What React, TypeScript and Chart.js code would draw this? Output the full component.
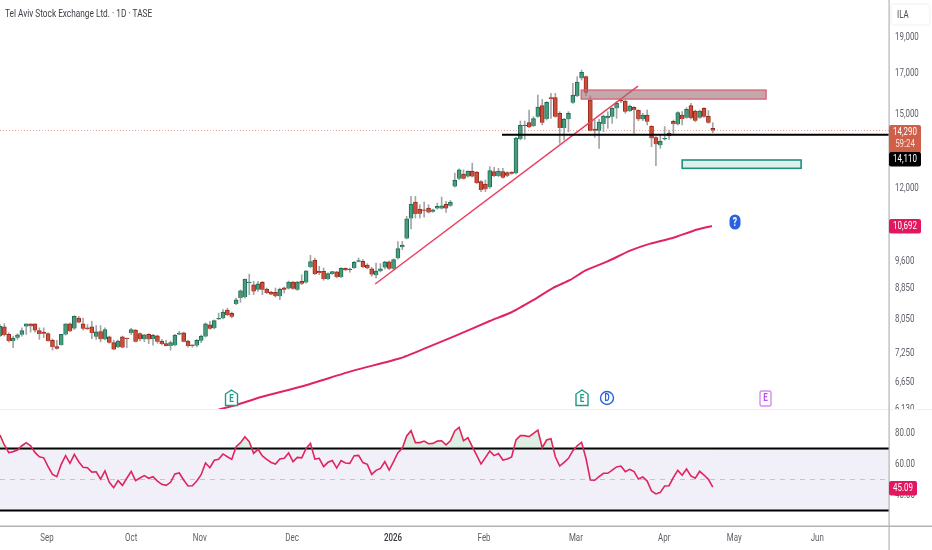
import React, { useEffect, useRef } from "react";
import { Chart, registerables } from "chart.js";

Chart.register(...registerables);

const opens = [7650,7867,7688,7536,7612,7681,7875,7939,7939,7782,7743,7711,7551,7410,7447,7688,7939,7828,8083,7939,7844,7867,7635,7758,7574,7635,7499,7395,7635,7597,7720,7790,7711,7574,7688,7582,7658,7536,7477,7425,7440,7696,7727,7536,7433,7433,7544,7642,7915,7836,8051,8075,8280,8198,8432,8587,8614,8990,8943,8808,9005,8826,8745,8736,8632,8862,8844,9015,8808,9035,9005,9439,9632,9316,9316,9101,9241,9297,9157,9400,9358,9410,9593,9603,9496,9382,9204,9316,9420,9584,9391,9690,10020,10296,10940,11497,11256,11222,11290,11165,11278,11278,11428,11370,12057,12342,12518,12429,12632,12594,12233,12146,12024,12610,12445,12610,12572,12598,12547,13927,14519,14636,14489,14906,15412,14800,15793,15793,15058,14402,14785,15553,15872,16747,16832,15680,14358,14285,14577,14830,14906,15288,15649,15633,15165,15335,15211,14785,14982,14474,13984,13661,13913,14183,14695,14562,14982,14860,15412,15165,14860,15288,14921,14387];
const highs = [7923,7947,7727,7650,7704,7844,7939,7939,7939,7844,7844,7727,7589,7551,7688,7939,7963,8140,8124,8083,7923,8003,7899,7899,7844,7650,7559,7559,7650,7604,7836,7805,7727,7688,7704,7688,7673,7574,7551,7536,7688,7766,7743,7559,7447,7574,7673,7963,8003,8035,8206,8289,8330,8230,8587,8807,9097,9235,9035,9035,9035,8853,8763,8853,8853,8880,9043,9035,9035,9218,9330,9779,9700,9458,9410,9269,9316,9316,9420,9410,9410,9603,9700,9651,9535,9430,9554,9535,9603,9613,9671,10200,10200,11008,11697,11697,11404,11497,11404,11256,11462,11673,11520,11555,12556,12722,12683,12645,12943,12620,12270,12295,12803,12777,12740,12740,12610,12610,13998,14710,14710,15211,14906,15920,15711,15600,16002,16002,15134,14830,15134,16495,16832,17177,16866,15872,14755,14785,14982,15134,15320,15600,15760,15680,15444,15366,15211,15058,15211,14503,14026,14097,14460,14314,14755,15134,15134,15320,15522,15211,15211,15320,15180,14636];
const lows = [7635,7650,7514,7388,7574,7650,7688,7743,7743,7574,7612,7529,7330,7352,7440,7673,7751,7805,7963,7790,7805,7589,7574,7514,7559,7484,7337,7388,7381,7388,7688,7514,7536,7521,7477,7440,7484,7447,7418,7330,7425,7681,7514,7395,7395,7403,7499,7627,7805,7820,8043,8059,8140,8083,8415,8475,8587,8676,8676,8763,8676,8700,8675,8615,8545,8719,8826,8817,8790,8943,8988,9410,9222,9222,9065,9083,9222,9129,9138,9335,9288,9391,9584,9410,9382,9175,9129,9297,9382,9363,9363,9671,9949,10276,10600,10953,10953,10985,11120,11142,11256,11256,11142,11347,12032,12304,12329,12405,12405,12156,11870,11870,11987,12420,12420,12360,12420,12510,12522,13885,13913,14416,14460,14876,14533,14755,14830,14876,13745,13885,14241,15522,15840,16663,15889,14271,13998,13538,14241,14387,14607,14830,15553,15058,15134,14169,14725,14725,14533,13606,12842,13538,13885,13913,14169,14533,14533,14830,14800,14681,14830,14876,14607,14198];
const closes = [7883,7673,7536,7604,7681,7782,7939,7883,7782,7696,7704,7536,7403,7360,7688,7939,7766,8124,7971,7820,7813,7720,7751,7574,7805,7499,7345,7536,7388,7582,7805,7521,7574,7681,7574,7665,7521,7470,7425,7499,7673,7720,7521,7425,7425,7551,7650,7939,7820,8019,8067,8230,8156,8116,8544,8780,9097,9005,8763,8970,8808,8719,8683,8632,8826,8808,9015,8835,9015,8970,9330,9593,9241,9269,9101,9250,9306,9157,9400,9344,9349,9574,9613,9439,9400,9222,9325,9382,9584,9391,9651,9980,10090,10930,11428,11087,11098,11199,11142,11233,11347,11370,11278,11497,12280,12683,12342,12632,12429,12180,11927,11950,12650,12445,12636,12383,12458,12535,13970,14519,14489,14431,14815,15350,14636,15569,15730,14906,14402,14785,15058,15920,16562,17056,16035,14285,14285,14666,14936,14936,15288,15522,15618,15134,15397,15211,14785,14982,14681,13955,13703,13829,13940,14055,14577,15088,14800,15242,14830,14725,15165,14906,14636,14290];

const rsiValues = [78.7,72.3,67.3,68,69,71.8,73.8,71.8,67.5,64.7,64,58.3,53.3,51.8,59.8,65.4,60.4,66.2,61.5,57.9,57.6,54.8,55,50.3,55.5,48.2,44.7,49.3,46.2,50.8,55.3,49.3,51,52.5,50.8,51.8,49,46.9,46.2,48.2,53.6,54.2,49.7,45.8,46,49,53.1,60.7,57.6,62.4,63,66.5,64.7,63,71.2,73.8,77.6,74.4,66.9,69.5,65.2,63,61,60,63.2,63.7,67.1,61.5,64.3,64,70.1,73.3,63.2,63.7,58.3,61.1,62.2,57.4,62.2,60.7,60.4,65.4,65.6,60.9,59.8,53.3,55.9,57.2,61.5,56.1,61.5,67.3,70.1,78.1,81.5,73.8,73.8,74.8,73.1,73.3,74.8,75,72.3,75,81.3,83.7,75,77,71.2,65.8,60,64.1,68.4,65.4,66.7,62.6,63.2,64.5,75.5,78.3,78.3,77.6,79.8,81.9,70.5,75.5,76.3,64.7,58.7,61.1,63.7,68.6,71.8,74,63.7,49.7,49.5,51.8,54,54,56.1,58.1,58.7,55.1,56.6,55.1,50.3,51.6,49,42.6,40.7,41.7,45.8,46,51.4,55.9,52.7,56.8,52.3,50.8,55.3,52.9,50.1,45.09];

const maSlots = [50,54,59.5,69.4,80.8,91.5,97.6,103.7,112,117,122,126.6,130.4,133.8,138.8,144.1,148.7,154,158.6,162.8];
const maValues = [6120,6204,6352,6574,6887,7151,7386,7636,8010,8225,8538,8863,9073,9333,9592,9918,10132,10318,10540,10692];

const trendSlots = [85.8, 145.9];
const trendValues = [8963, 16361];
const levelSlots = [114.8, 203.3];
const levelValue = 14110;
const lastPrice = 14290;
const resistanceZone = { from: 132.9, to: 175.2, top: 16164, bottom: 15724 };
const supportZone = { from: 156, to: 183.2, top: 13066, bottom: 12740 };

const priceTicks = [19000, 17000, 15000, 12000, 9600, 8850, 8050, 7250, 6650, 6130];
const rsiTicks = [80, 60, 40];
const monthSlots = [10.75, 30, 45.7, 66.8, 89.9, 110.7, 131.7, 151.9, 167.9, 186.9];
const monthLabels = ["Sep", "Oct", "Nov", "Dec", "2026", "Feb", "Mar", "Apr", "May", "Jun"];

const TITLE = "Tel Aviv Stock Exchange Ltd. · 1D · TASE";
const FONT = "Roboto, sans-serif";
const X_MAX = 203.3;
const WIDTH = 932;
const UP = "#4a9a7e", UP_B = "#1d6e55", DOWN = "#c8503c", DOWN_B = "#9c2a1c";
const PINK = "#e0245f", TEXT = "#5d6068";

function condense(canvas: HTMLCanvasElement, k: number) {
  const ctx: any = canvas.getContext("2d");
  const orig = ctx.fillText.bind(ctx);
  ctx.fillText = (text: string, x: number, y: number) => {
    ctx.save();
    ctx.translate(x, y);
    ctx.scale(k, 1);
    orig(text, 0, 0);
    ctx.restore();
  };
}

function tag(ctx: any, x: number, y: number, w: number, h: number, fill: string) {
  ctx.fillStyle = fill;
  ctx.beginPath();
  ctx.roundRect(x, y, w, h, 2);
  ctx.fill();
}

function eLabel(ctx: any, label: string, x: number, y: number, color: string) {
  ctx.fillStyle = color;
  ctx.font = `bold 11px ${FONT}`;
  ctx.textAlign = "center";
  ctx.textBaseline = "middle";
  ctx.fillText(label, x, y);
}

const pricePlugin = {
  id: "priceOverlay",
  afterDatasetsDraw(chart: any) {
    const { ctx, scales } = chart;
    const zone = (z: any, fill: string, stroke: string, lw: number) => {
      const x0 = scales.x.getPixelForValue(z.from), x1 = scales.x.getPixelForValue(z.to);
      const y0 = scales.y.getPixelForValue(z.top), y1 = scales.y.getPixelForValue(z.bottom);
      ctx.save();
      ctx.fillStyle = fill;
      ctx.strokeStyle = stroke;
      ctx.lineWidth = lw;
      ctx.fillRect(x0, y0, x1 - x0, y1 - y0);
      ctx.strokeRect(x0, y0, x1 - x0, y1 - y0);
      ctx.restore();
    };
    zone(resistanceZone, "rgba(155,115,120,0.62)", "#dc5672", 1.2);
    zone(supportZone, "rgba(200,230,220,0.6)", "#1f9080", 1.6);
  },
  afterDraw(chart: any) {
    const { ctx } = chart;
    ctx.save();
    ctx.fillStyle = "#3a3d46";
    ctx.font = `11.5px ${FONT}`;
    ctx.textAlign = "left";
    ctx.textBaseline = "middle";
    ctx.fillText(TITLE, 5, 14);
    ctx.fillStyle = "#b2b4b8";
    ctx.fillRect(888.5, 0, 1.2, chart.height);
    ctx.strokeStyle = "#f0f1f3";
    ctx.fillStyle = "#ffffff";
    ctx.beginPath();
    ctx.roundRect(891, 4, 39, 21, 3);
    ctx.fill();
    ctx.stroke();
    ctx.fillStyle = "#45484f";
    ctx.font = `11px ${FONT}`;
    ctx.fillText("ILA", 897, 15);
    tag(ctx, 889, 125, 32, 28, "#d05f4a");
    ctx.font = `11px ${FONT}`;
    ctx.fillStyle = "#ffffff";
    ctx.textAlign = "center";
    ctx.fillText("14,290", 905, 132);
    ctx.fillStyle = "#ffe0d6";
    ctx.fillText("59:24", 905, 144);
    tag(ctx, 889, 152, 32, 14.5, "#000000");
    ctx.fillStyle = "#ffffff";
    ctx.fillText("14,110", 905, 159);
    tag(ctx, 889, 219, 32, 14.5, "#e3175f");
    ctx.fillStyle = "#ffffff";
    ctx.fillText("10,692", 905, 226.5);
    const house = (cx: number, color: string) => {
      ctx.strokeStyle = color;
      ctx.fillStyle = "#ffffff";
      ctx.lineWidth = 1.4;
      ctx.beginPath();
      ctx.moveTo(cx, 390);
      ctx.lineTo(cx + 6, 394);
      ctx.lineTo(cx + 6, 405.5);
      ctx.lineTo(cx - 6, 405.5);
      ctx.lineTo(cx - 6, 394);
      ctx.closePath();
      ctx.fill();
      ctx.stroke();
      eLabel(ctx, "E", cx, 399, color);
    };
    house(231.5, "#1f9a86");
    house(582, "#1f9a86");
    ctx.strokeStyle = "#2962e0";
    ctx.lineWidth = 1.4;
    ctx.fillStyle = "#ffffff";
    ctx.beginPath();
    ctx.arc(607, 398, 6.5, 0, Math.PI * 2);
    ctx.fill();
    ctx.stroke();
    eLabel(ctx, "D", 607, 398.5, "#2962e0");
    ctx.strokeStyle = "#d98af0";
    ctx.fillStyle = "#ffffff";
    ctx.beginPath();
    ctx.roundRect(760, 391, 11, 15, 2);
    ctx.fill();
    ctx.stroke();
    eLabel(ctx, "E", 765.5, 398.5, "#b84fe0");
    ctx.fillStyle = "#2962e0";
    ctx.beginPath();
    ctx.roundRect(729.5, 214.5, 11, 15, 5.5);
    ctx.fill();
    ctx.fillStyle = "#ffffff";
    ctx.font = `bold 12px ${FONT}`;
    ctx.textAlign = "center";
    ctx.fillText("?", 735, 222.5);
    ctx.restore();
  },
};

const rsiPlugin = {
  id: "rsiOverlay",
  beforeDatasetsDraw(chart: any) {
    const { ctx, scales, chartArea } = chart;
    const y = (v: number) => scales.y.getPixelForValue(v);
    ctx.save();
    ctx.fillStyle = "#f1eff7";
    ctx.fillRect(0, y(70), chartArea.right, y(30) - y(70));
    ctx.strokeStyle = "#c4c4cc";
    ctx.setLineDash([5, 5]);
    ctx.lineWidth = 1;
    ctx.beginPath();
    ctx.moveTo(0, y(50));
    ctx.lineTo(chartArea.right, y(50));
    ctx.stroke();
    ctx.setLineDash([]);
    ctx.fillStyle = "#000000";
    ctx.fillRect(0, y(70) - 1, chartArea.right, 2);
    ctx.fillRect(0, y(30) - 1, chartArea.right, 2);
    ctx.restore();
  },
  afterDraw(chart: any) {
    const { ctx, chartArea } = chart;
    ctx.save();
    ctx.fillStyle = "#f0f1f3";
    ctx.fillRect(0, 0, WIDTH, 1.2);
    ctx.fillStyle = "#b2b4b8";
    ctx.fillRect(0, chartArea.bottom - 0.5, WIDTH, 1.5);
    ctx.fillRect(888.5, 0, 1.2, chart.height);
    tag(ctx, 889, 72, 28, 14.5, "#e3175f");
    ctx.fillStyle = "#ffffff";
    ctx.font = `11px ${FONT}`;
    ctx.textAlign = "center";
    ctx.textBaseline = "middle";
    ctx.fillText("45.09", 903, 79.5);
    ctx.restore();
  },
};

const fit = (w: number) => (s: any) => {
  s.width = w;
  s.paddingTop = 0;
  s.paddingBottom = 0;
};

export default function App() {
  const topRef = useRef<HTMLCanvasElement>(null);
  const botRef = useRef<HTMLCanvasElement>(null);

  useEffect(() => {
    document.body.style.margin = "0";
    document.body.style.background = "#ffffff";
    condense(topRef.current!, 0.72);
    condense(botRef.current!, 0.72);
    const idx = opens.map((_, i) => i);
    const upFlags = idx.map((i) => closes[i] >= opens[i]);

    const top = new Chart(topRef.current!, {
      type: "bar",
      data: {
        datasets: [
          {
            type: "bar",
            data: idx.map((i) => ({ x: i, y: [lows[i], highs[i]] })),
            backgroundColor: "#a3a5a8",
            barThickness: 1,
            grouped: false,
            order: 5,
          },
          {
            type: "bar",
            data: idx.map((i) => ({ x: i, y: [opens[i], closes[i]] })),
            backgroundColor: upFlags.map((u) => (u ? UP : DOWN)),
            borderColor: upFlags.map((u) => (u ? UP_B : DOWN_B)),
            borderWidth: 1,
            barThickness: 4,
            minBarLength: 1,
            grouped: false,
            order: 4,
          },
          {
            type: "line",
            data: maSlots.map((s, i) => ({ x: s, y: maValues[i] })),
            borderColor: PINK,
            borderWidth: 2,
            pointRadius: 0,
            tension: 0.2,
            order: 3,
          },
          {
            type: "line",
            data: trendSlots.map((s, i) => ({ x: s, y: trendValues[i] })),
            borderColor: "#e8405f",
            borderWidth: 1.5,
            pointRadius: 0,
            order: 2,
          },
          {
            type: "line",
            data: levelSlots.map((s) => ({ x: s, y: levelValue })),
            borderColor: "#000000",
            borderWidth: 2,
            pointRadius: 0,
            order: 1,
          },
          {
            type: "line",
            data: [0, X_MAX].map((s) => ({ x: s, y: lastPrice })),
            borderColor: "#e9a6a0",
            borderWidth: 1,
            borderDash: [1, 2],
            pointRadius: 0,
            order: 6,
          },
        ] as any,
      },
      options: {
        responsive: false,
        animation: false,
        layout: { padding: 0, autoPadding: false },
        plugins: { legend: { display: false }, tooltip: { enabled: false } },
        scales: {
          x: { type: "linear", min: 0, max: X_MAX, display: false, offset: false, bounds: "data" },
          y: {
            type: "logarithmic",
            position: "right",
            bounds: "data",
            min: 6129,
            max: 21252,
            afterFit: fit(43),
            afterBuildTicks: (s: any) => { s.ticks = priceTicks.map((value) => ({ value })); },
            grid: { display: false, drawTicks: false },
            border: { display: false },
            ticks: {
              autoSkip: false,
              padding: 6,
              color: TEXT,
              font: { family: FONT, size: 11 },
              callback: (v: any) => Number(v).toLocaleString("en-US"),
            },
          },
        },
      } as any,
      plugins: [pricePlugin],
    });

    const bot = new Chart(botRef.current!, {
      type: "line",
      data: {
        datasets: [
          {
            data: rsiValues.map((v, i) => ({ x: i, y: v })),
            borderColor: PINK,
            borderWidth: 1.6,
            pointRadius: 0,
            fill: { target: { value: 70 }, above: "rgba(90,170,110,0.2)", below: "rgba(0,0,0,0)" },
          },
        ] as any,
      },
      options: {
        responsive: false,
        animation: false,
        layout: { padding: 0, autoPadding: false },
        plugins: { legend: { display: false }, tooltip: { enabled: false } },
        scales: {
          x: {
            type: "linear",
            bounds: "data",
            min: 0,
            max: X_MAX,
            offset: false,
            afterFit: (s: any) => {
              s.height = 24;
              s.paddingLeft = 0;
              s.paddingRight = 0;
            },
            afterBuildTicks: (s: any) => { s.ticks = monthSlots.map((value) => ({ value })); },
            grid: { display: false, drawTicks: false },
            border: { display: false },
            ticks: {
              autoSkip: false,
              maxRotation: 0,
              padding: 6,
              color: (c: any) => (c.tick && c.tick.value === monthSlots[4] ? "#33363d" : TEXT),
              font: (c: any) => ({
                family: FONT,
                size: 11,
                weight: c.tick && c.tick.value === monthSlots[4] ? "500" : "normal",
              }),
              callback: (v: any) => monthLabels[monthSlots.indexOf(Number(v))] ?? "",
            },
          },
          y: {
            type: "linear",
            position: "right",
            bounds: "data",
            min: 20,
            max: 95.5,
            afterFit: fit(43),
            afterBuildTicks: (s: any) => { s.ticks = rsiTicks.map((value) => ({ value })); },
            grid: { display: false, drawTicks: false },
            border: { display: false },
            ticks: {
              autoSkip: false,
              padding: 6,
              color: TEXT,
              font: { family: FONT, size: 11 },
              callback: (v: any) => Number(v).toFixed(2),
            },
          },
        },
      } as any,
      plugins: [rsiPlugin],
    });

    return () => {
      top.destroy();
      bot.destroy();
    };
  }, []);

  return (
    <div style={{ position: "absolute", left: 0, top: 0, width: WIDTH, height: 550, background: "#fff" }}>
      <canvas ref={topRef} width={WIDTH} height={409} style={{ position: "absolute", left: 0, top: 0 }} />
      <canvas ref={botRef} width={WIDTH} height={141} style={{ position: "absolute", left: 0, top: 409 }} />
    </div>
  );
}
